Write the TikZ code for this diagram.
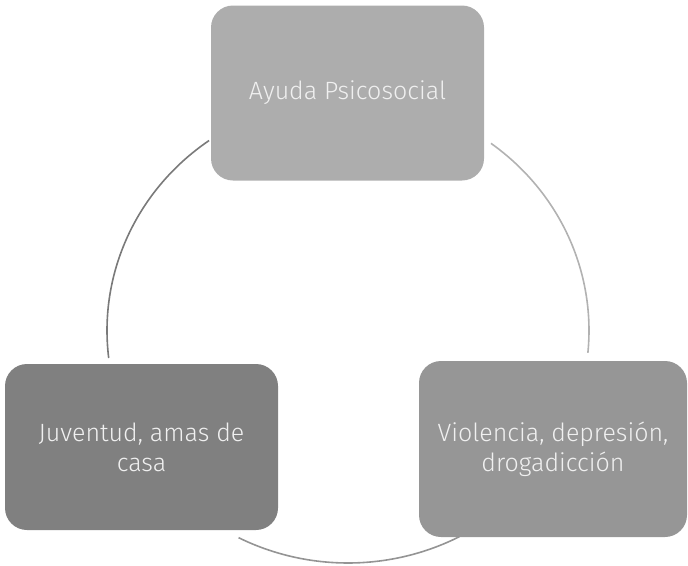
\documentclass[tikz,border=0pt]{standalone}
\usepackage{fontspec}
\setmainfont{Fira Sans}[UprightFont={* Light}]
\usetikzlibrary{positioning}

\begin{document}
\begin{tikzpicture}[
    x=1pt, y=-1pt,
    every node/.style={font=\fontsize{25}{30}\selectfont, align=center, text=white!94!black},
    stage/.style={rounded corners=22pt, minimum width=273pt, minimum height=175pt, inner sep=0pt},
    ring/.style={line width=1.6pt}
]
\useasboundingbox (0,0) rectangle (688,565);

% --- Nodes ---
\node[stage, fill=black!32] (ayuda) at (347.5,93) {Ayuda Psicosocial};
\node[stage, fill=black!41, minimum width=268pt, minimum height=176pt] (violencia) at (553,449)
    {Violencia, depresión,\\drogadicción};
\node[stage, fill=black!50, minimum height=166pt] (juventud) at (141.5,447)
    {Juventud, amas de\\casa};

% --- Ring ---
\coordinate (ctr) at (348,330.5);
\draw[ring, black!52] ([shift={(125.2:241pt and 232.5pt)}]ctr) arc (125.2:186.8:241pt and 232.5pt);
\draw[ring, black!30] ([shift={(53.6:241pt and 232.5pt)}]ctr) arc (53.6:-5.5:241pt and 232.5pt);
\draw[ring, black!42] ([shift={(243:241pt and 232.5pt)}]ctr) arc (243:297.5:241pt and 232.5pt);

\end{tikzpicture}
\end{document}
